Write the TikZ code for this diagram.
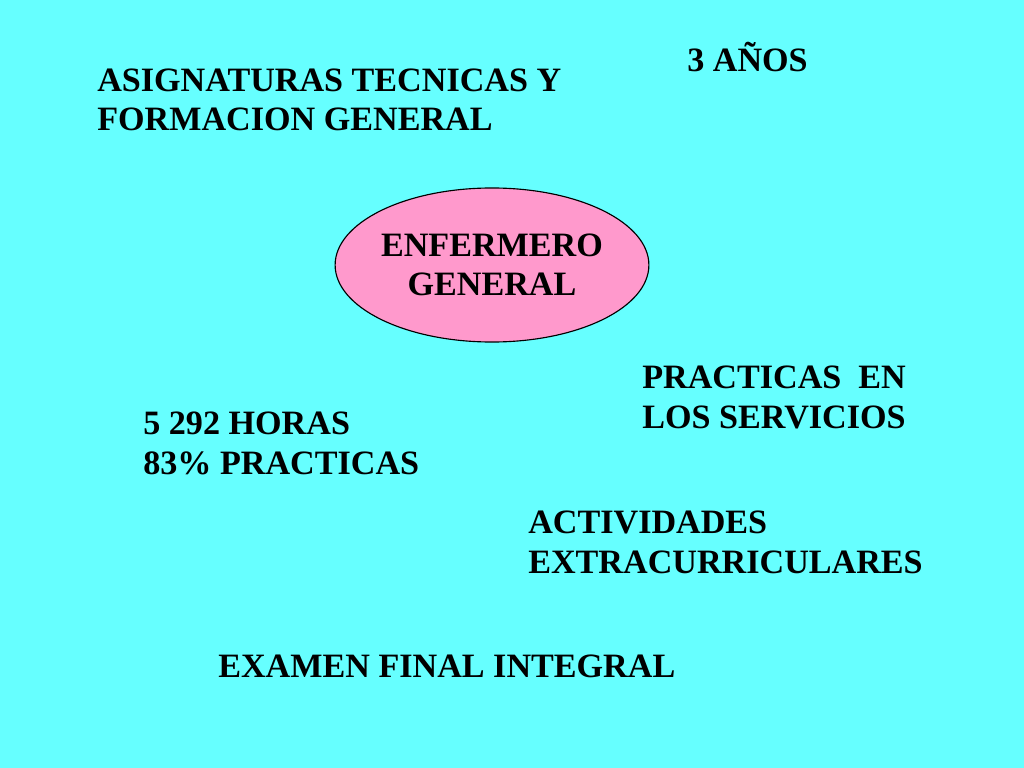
\documentclass[tikz,border=0pt]{standalone}
\usepackage{fontspec}
\setmainfont{Liberation Serif}
\usetikzlibrary{shapes.geometric}
\definecolor{fondo}{HTML}{66FFFF}
\definecolor{rosa}{HTML}{FF99CC}
\begin{document}
\begin{tikzpicture}[x=0.703125pt,y=-0.703125pt]
\tikzset{every node/.style={inner sep=0pt, font=\bfseries\fontsize{24pt}{27.5pt}\selectfont}}
\tikzset{texto/.style={anchor=base west, align=left}}
\fill [fondo] (0,0) rectangle (1024,768);
\useasboundingbox (0,0) rectangle (1024,768);
% bloques de texto (base de la ultima linea)
\node [texto] (anos) at (687,72) {3 AÑOS};
\node [texto] (asig) at (97,131) {ASIGNATURAS TECNICAS Y\\FORMACION GENERAL};
\node [ellipse, draw=black, line width=0.8pt, fill=rosa, minimum width=219.4pt, minimum height=108.3pt, align=center] (enf) at (492,265) {ENFERMERO\\GENERAL};
\node [texto] (prac) at (642,428) {PRACTICAS~ EN\\LOS SERVICIOS};
\node [texto] (horas) at (143,474) {5 292 HORAS\\83\% PRACTICAS};
\node [texto] (activ) at (528,573) {ACTIVIDADES\\EXTRACURRICULARES};
\node [texto] (exam) at (218,677) {EXAMEN FINAL INTEGRAL};
\end{tikzpicture}
\end{document}
